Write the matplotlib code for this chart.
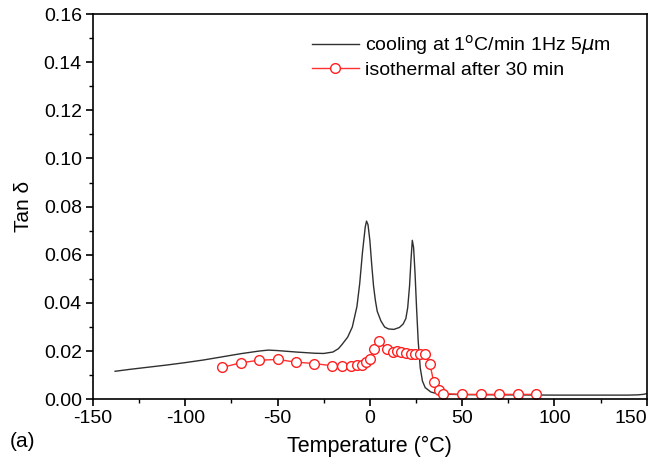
import matplotlib
matplotlib.use("Agg")
import matplotlib.pyplot as plt
from matplotlib.ticker import MultipleLocator

plt.rcParams['font.family'] = ['Liberation Sans', 'DejaVu Sans']
plt.rcParams['axes.unicode_minus'] = False

# cooling scan
cool_T = [-138, -130, -120, -110, -100, -90, -80, -70, -60, -55, -50, -40,
          -30, -25, -20, -17, -15, -12, -9.5, -7, -5.5, -4, -2.5, -1.8, -1,
          0, 1, 2, 3, 4, 6, 8, 10, 13, 16, 18, 19.5, 20.5, 21.5, 22.3, 23,
          23.7, 24.5, 25.3, 26.2, 27.3, 28.5, 30, 33, 36, 40, 50, 75, 100,
          125, 140, 145, 148, 150]
cool_tan = [0.0116, 0.0124, 0.0133, 0.0142, 0.0152, 0.0163, 0.0176, 0.0189,
            0.0200, 0.0204, 0.0202, 0.0196, 0.0191, 0.0190, 0.0196, 0.0210,
            0.0228, 0.0258, 0.0300, 0.0385, 0.0480, 0.0610, 0.0715, 0.0740,
            0.0725, 0.0660, 0.0560, 0.0470, 0.0410, 0.0365, 0.0325, 0.0300,
            0.0292, 0.0290, 0.0298, 0.0312, 0.0335, 0.0380, 0.0470, 0.0580,
            0.0660, 0.0630, 0.0520, 0.0380, 0.0240, 0.0130, 0.0075, 0.0048,
            0.0030, 0.0024, 0.0021, 0.0019, 0.0018, 0.0017, 0.0017, 0.0017,
            0.0018, 0.0020, 0.0023]

# isothermal points
iso_T = [-80, -70, -60, -50, -40, -30, -20.5, -15.3, -10.2, -7.2, -4.5,
         -2.2, 0, 2.2, 4.7, 9.3, 12.4, 14.7, 16.9, 19.4, 22.1, 24.6, 27.3,
         30, 32.5, 34.6, 37.2, 39.8, 50, 60, 70, 80, 90]
iso_tan = [0.0132, 0.0151, 0.0162, 0.0165, 0.0154, 0.0148, 0.0139, 0.0139,
           0.0139, 0.0141, 0.0144, 0.0153, 0.0169, 0.0210, 0.0243, 0.0208,
           0.0197, 0.0201, 0.0197, 0.0191, 0.0187, 0.0186, 0.0187, 0.0189,
           0.0147, 0.0072, 0.0037, 0.0023, 0.0020, 0.0020, 0.0020, 0.0020,
           0.0020]

x_ticks = [-150, -100, -50, 0, 50, 100, 150]

fig = plt.figure(figsize=(6.5, 4.68), dpi=100)
ax = fig.add_axes([0.143, 0.147, 0.852, 0.823])

ax.plot(cool_T, cool_tan, color='#303030', lw=1.0,
        label='cooling at 1$^{\\rm o}$C/min 1Hz 5$\\mu$m')
ax.plot(iso_T, iso_tan, color='#ff3030', lw=1.0, marker='o', markersize=7,
        markerfacecolor='white', markeredgecolor='#ff2020', markeredgewidth=1.0,
        label='isothermal after 30 min')

ax.set_xlim(-150, 150)
ax.set_ylim(0, 0.16)
ax.set_xticks(x_ticks)
ax.xaxis.set_minor_locator(MultipleLocator(25))
ax.yaxis.set_major_locator(MultipleLocator(0.02))
ax.yaxis.set_minor_locator(MultipleLocator(0.01))
ax.yaxis.set_major_formatter(plt.FormatStrFormatter('%.2f'))
ax.tick_params(which='major', direction='out', length=5, width=1.2,
               labelsize=14, pad=3, top=False, right=False)
ax.tick_params(which='minor', direction='out', length=3, width=1.0,
               top=False, right=False)
for s in ax.spines.values():
  s.set_linewidth(1.2)

# keep the last label inside the canvas
ax.get_xticklabels()[-1].set_ha('right')
ax.get_xticklabels()[-1].set_x(150)

ax.set_xlabel('Temperature (°C)', fontsize=15.5, labelpad=6)
ax.set_ylabel('Tan δ', fontsize=15, labelpad=8)

ax.legend(loc='upper right', frameon=False, fontsize=14, handlelength=2.4,
          handletextpad=0.35, borderaxespad=0.3, labelspacing=0.2,
          bbox_to_anchor=(0.96, 0.985))

fig.text(0.015, 0.045, '(a)', fontsize=15)

fig.savefig('out.png', dpi=100)
